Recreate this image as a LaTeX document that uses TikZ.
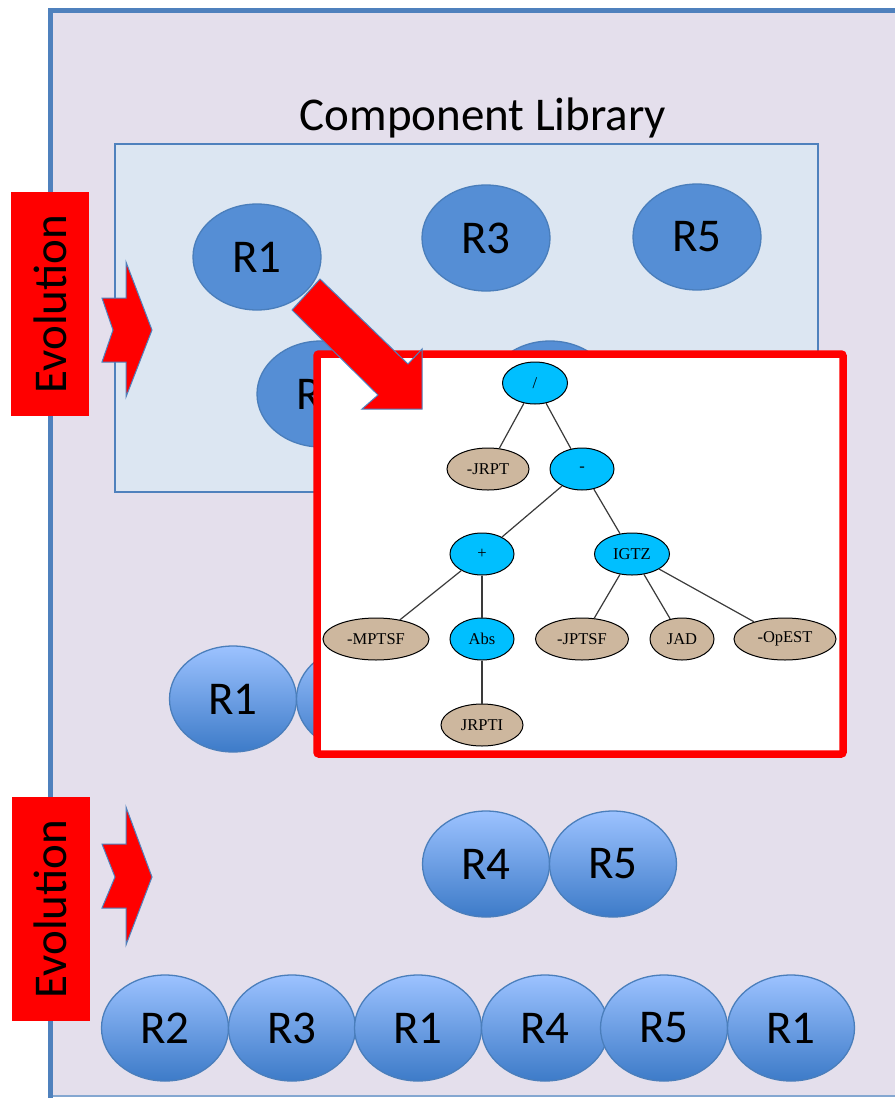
\documentclass[tikz,border=0pt]{standalone}
\usepackage{fontspec}
\setmainfont{Carlito}
\newfontfamily\treefont{Liberation Serif}
\usetikzlibrary{shapes.geometric}

\definecolor{panelfill}{HTML}{E4DFEC}
\definecolor{panelline}{HTML}{4F81BD}
\definecolor{libfill}{HTML}{DCE6F2}
\definecolor{compfill}{HTML}{558ED5}
\definecolor{compline}{HTML}{4A7EBB}
\definecolor{gradtop}{HTML}{9CC2FF}
\definecolor{gradbot}{HTML}{3D7BC8}
\definecolor{opnode}{HTML}{00BFFF}
\definecolor{leafnode}{HTML}{CDB79E}
\definecolor{edgegray}{HTML}{3A3A3A}

\tikzset{
  comp/.style={ellipse, draw=compline, line width=1.3pt, fill=compfill,
    minimum width=128pt, minimum height=106pt, inner sep=0pt,
    font=\fontsize{47}{47}\selectfont},
  chain/.style={ellipse, draw=compline, line width=1.3pt,
    top color=gradtop, bottom color=gradbot,
    minimum width=127pt, minimum height=106pt, inner sep=0pt,
    font=\fontsize{47}{47}\selectfont},
  evobox/.style={fill=red, rotate=90, minimum width=224pt, minimum height=78pt,
    inner sep=0pt, font=\fontsize{47}{47}\selectfont},
  blockarrow/.style={fill=red, draw=panelline, line width=1pt, line join=miter},
  opn/.style={ellipse, draw=black, line width=1pt, fill=opnode,
    minimum height=42pt, inner sep=0pt, font=\treefont\fontsize{16.5}{16.5}\selectfont},
  leaf/.style={ellipse, draw=black, line width=1pt, fill=leafnode,
    minimum height=42pt, inner sep=0pt, font=\treefont\fontsize{16.5}{16.5}\selectfont},
  treeedge/.style={draw=edgegray, line width=1.2pt}
}

\begin{document}
\begin{tikzpicture}[x=1pt, y=-1pt]
\useasboundingbox (0,0) rectangle (895,1098);

% outer panel
\fill[panelfill] (50,10) rectangle (895,1096);
\draw[panelline!70, line width=1.5pt] (50,1096) -- (895,1096);
\draw[panelline, line width=5pt] (50,1098) -- (50,10) -- (895,10);

% component library
\node[font=\fontsize{47}{47}\selectfont] (title) at (483,118) {Component Library};
\node[draw=panelline, line width=1.3pt, fill=libfill, minimum width=703pt,
  minimum height=348pt, inner sep=0pt] (library) at (466.5,318) {};
\node[comp] (libR1) at (257,257) {R1};
\node[comp] (libR3) at (486,238) {R3};
\node[comp] (libR5) at (697,237) {R5};
\node[comp] (libR2) at (321,394) {R2};
\node[comp] (libR4) at (550,394) {};

% evolution labels and arrows
\node[evobox] (evo1) at (50,304) {Evolution};
\node[evobox] (evo2) at (50.5,909) {Evolution};
\draw[blockarrow] (102,298) -- (126,298) -- (126,262) -- (152,330) -- (126,397)
  -- (126,362) -- (102,362) -- (113,330) -- cycle;
\draw[blockarrow] (102,844) -- (126,844) -- (126,807) -- (152,877) -- (126,945)
  -- (126,908) -- (102,908) -- (115,877) -- cycle;

% first generation row
\node[chain] (genR1) at (233,699) {R1};
\node[chain] (genX) at (360,699) {};

% expression tree panel
\node[draw=red, line width=7.5pt, fill=white, rounded corners=2pt,
  minimum width=526pt, minimum height=400pt, inner sep=0pt] (treebox) at (580,554) {};

% arrow from library into the tree
\draw[blockarrow] (320,279) -- (408,364) -- (422,349) -- (422,409) -- (362,409)
  -- (378,395) -- (292,310) -- cycle;

% expression tree
\node[opn, minimum width=65pt] (root) at (535,383) {/};
\node[leaf, minimum width=82pt] (jrpt) at (488,469) {-JRPT};
\node[opn, minimum width=64pt] (minus) at (582,469) {-};
\node[opn, minimum width=64pt] (plus) at (482,554) {+};
\node[opn, minimum width=75pt] (igtz) at (632,554) {IGTZ};
\node[leaf, minimum width=106pt] (mptsf) at (376,639) {-MPTSF};
\node[opn, minimum width=64pt] (abs) at (482,639) {Abs};
\node[leaf, minimum width=93pt] (jptsf) at (582,639) {-JPTSF};
\node[leaf, minimum width=64pt] (jad) at (682,639) {JAD};
\node[leaf, minimum width=102pt] (opest) at (785,639) {-OpEST};
\node[leaf, minimum width=82pt] (jrpti) at (482,725) {JRPTI};

\draw[treeedge] (root) -- (jrpt);
\draw[treeedge] (root) -- (minus);
\draw[treeedge] (minus) -- (plus);
\draw[treeedge] (minus) -- (igtz);
\draw[treeedge] (plus) -- (mptsf);
\draw[treeedge] (plus) -- (abs);
\draw[treeedge] (abs) -- (jrpti);
\draw[treeedge] (igtz) -- (jptsf);
\draw[treeedge] (igtz) -- (jad);
\draw[treeedge] (igtz) -- (opest);

% second generation row
\node[chain] (midR4) at (486,864) {R4};
\node[chain] (midR5) at (613,864) {R5};

% final row
\node[chain] (finR2) at (165,1028) {R2};
\node[chain] (finR3) at (292,1028) {R3};
\node[chain] (finR1) at (418,1028) {R1};
\node[chain] (finR4) at (545,1028) {R4};
\node[chain] (finR5) at (664,1028) {R5};
\node[chain] (finR1b) at (791,1028) {R1};
\end{tikzpicture}
\end{document}
